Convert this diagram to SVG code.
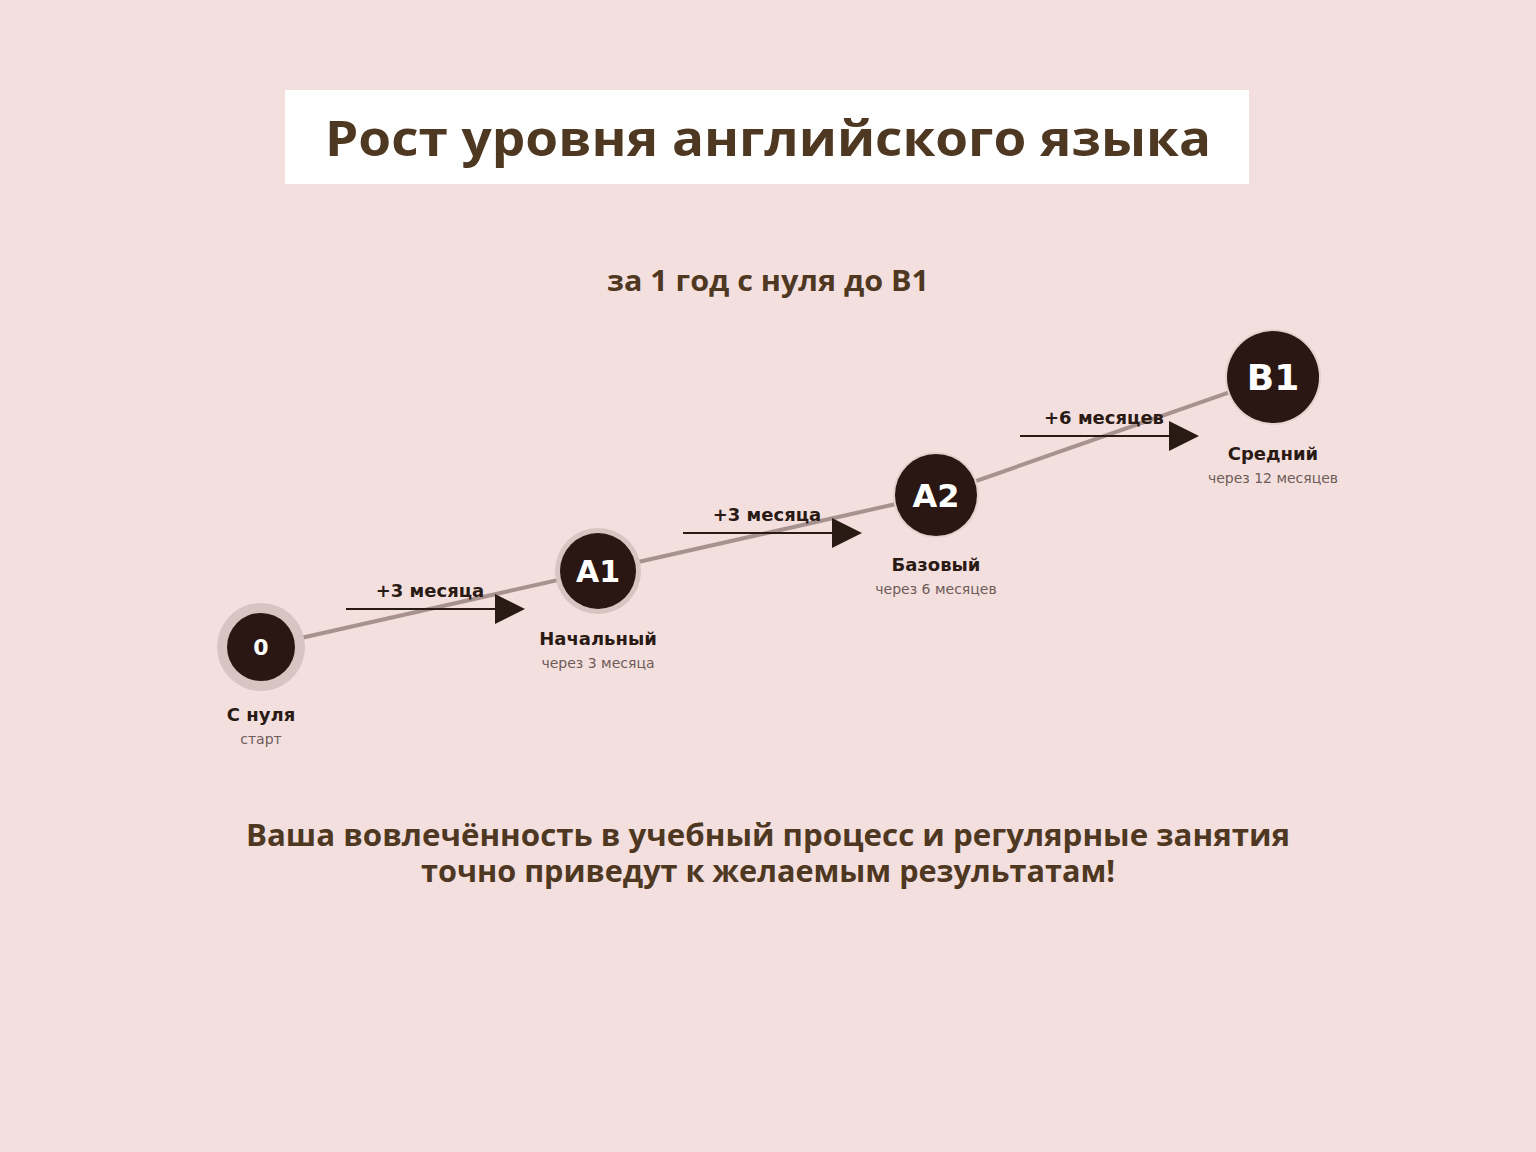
<svg xmlns="http://www.w3.org/2000/svg" width="1536" height="1152" viewBox="0 0 1536 1152">
<style>
.hd{font-family:"Open Sans","Liberation Sans",sans-serif;font-weight:700;fill:#4f3822;text-anchor:middle}
.nl{font-family:"DejaVu Sans",sans-serif;font-weight:700;fill:#fff;text-anchor:middle}
.lb{font-family:"DejaVu Sans",sans-serif;font-weight:700;fill:#2a1a14;text-anchor:middle;font-size:18px}
.sb{font-family:"DejaVu Sans",sans-serif;fill:#6e5c58;text-anchor:middle;font-size:14px}
.ar{stroke:#2a1a14;stroke-width:2;fill:none}
.dot{fill:#2a1612}
</style>
<defs>
<marker id="tri" viewBox="0 0 30 30" refX="0" refY="15" markerWidth="30" markerHeight="30" markerUnits="userSpaceOnUse" orient="auto">
<path d="M0,0 L30,15 L0,30 Z" fill="#2a1a14"/>
</marker>
</defs>
<rect width="1536" height="1152" fill="#f4dfdf"/>
<rect x="285" y="90" width="964" height="94" fill="#fff"/>
<text class="hd" x="768" y="156" font-size="48" textLength="886" lengthAdjust="spacingAndGlyphs">Рост уровня английского языка</text>
<text class="hd" x="768" y="291" font-size="28" textLength="322" lengthAdjust="spacingAndGlyphs">за 1 год с нуля до B1</text>
<g id="connectors">
<polyline points="261,647 598,571 936,495 1273,377" stroke="#a89290" stroke-width="4" fill="none"/>
<line class="ar" x1="346" y1="609" x2="495" y2="609" marker-end="url(#tri)"/>
<text class="lb" x="430" y="597">+3 месяца</text>
<line class="ar" x1="683" y1="533" x2="832" y2="533" marker-end="url(#tri)"/>
<text class="lb" x="767" y="521">+3 месяца</text>
<line class="ar" x1="1020" y1="436" x2="1169" y2="436" marker-end="url(#tri)"/>
<text class="lb" x="1104" y="424">+6 месяцев</text>
</g>
<g id="n0">
<circle cx="261" cy="647" r="44" fill="#d8c4c2"/>
<circle class="dot" cx="261" cy="647" r="34"/>
<text class="nl" x="261" y="655" font-size="22">0</text>
<text class="lb" x="261" y="721">С нуля</text>
<text class="sb" x="261" y="744">старт</text>
</g>
<g id="nA1">
<circle cx="598" cy="571" r="43" fill="#d8c4c2"/>
<circle class="dot" cx="598" cy="571" r="38"/>
<text class="nl" x="598" y="582" font-size="30">A1</text>
<text class="lb" x="598" y="645">Начальный</text>
<text class="sb" x="598" y="668">через 3 месяца</text>
</g>
<g id="nA2">
<circle cx="936" cy="495" r="43" fill="#e4d0ce"/>
<circle class="dot" cx="936" cy="495" r="41"/>
<text class="nl" x="936" y="507" font-size="32">A2</text>
<text class="lb" x="936" y="571">Базовый</text>
<text class="sb" x="936" y="594">через 6 месяцев</text>
</g>
<g id="nB1">
<circle cx="1273" cy="377" r="48" fill="#e4d0ce"/>
<circle class="dot" cx="1273" cy="377" r="46"/>
<text class="nl" x="1273" y="390" font-size="36">B1</text>
<text class="lb" x="1273" y="460">Средний</text>
<text class="sb" x="1273" y="483">через 12 месяцев</text>
</g>
<text class="hd" x="768" y="846" font-size="30" textLength="1044" lengthAdjust="spacingAndGlyphs">Ваша вовлечённость в учебный процесс и регулярные занятия</text>
<text class="hd" x="768" y="882" font-size="30" textLength="694" lengthAdjust="spacingAndGlyphs">точно приведут к желаемым результатам!</text>
</svg>
